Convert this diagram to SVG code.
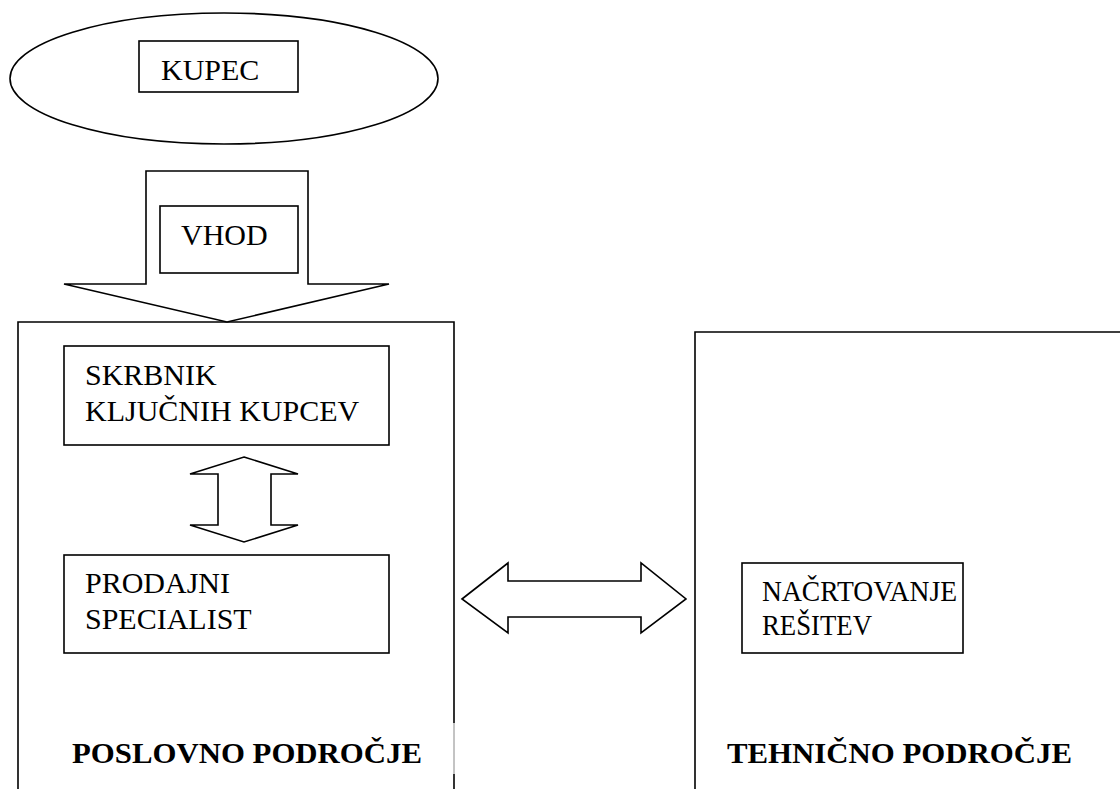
<svg xmlns="http://www.w3.org/2000/svg" width="1120" height="789" viewBox="0 0 1120 789">
<style>
.s{fill:#fff;stroke:#000;stroke-width:1.6}
.o{fill:none;stroke:#000;stroke-width:1.6}
.t{font-family:'Liberation Serif','Times New Roman',Tinos,'DejaVu Serif',serif;font-size:30px;fill:#000}
.b{font-family:'Liberation Serif','Times New Roman',Tinos,'DejaVu Serif',serif;font-size:30px;font-weight:bold;fill:#000}
</style>
<rect width="1120" height="789" fill="#fff"/>
<g id="poslovno">
<path class="o" d="M18,800 V322 H454 V723"/>
<path d="M454,723 V774" stroke="#888" stroke-width="1"/>
<path class="o" d="M454,774 V800"/>
<text class="b" x="72" y="763" textLength="350" lengthAdjust="spacingAndGlyphs">POSLOVNO PODROČJE</text>
</g>
<g id="tehnicno">
<path class="o" d="M695,800 V332 H1125"/>
<text class="b" x="727" y="763" font-size="32" textLength="345" lengthAdjust="spacingAndGlyphs">TEHNIČNO PODROČJE</text>
</g>
<g id="kupec">
<ellipse class="s" cx="224" cy="78.5" rx="214" ry="65.5"/>
<rect class="s" x="139" y="41" width="159" height="51"/>
<text class="t" x="161" y="80">KUPEC</text>
</g>
<g id="connectors">
<polygon class="s" points="146,171 308,171 308,284 389,284 227,322 64,284 146,284"/>
<polygon class="s" points="244,457 298,474 271,474 271,525 298,525 244,542 190,525 218,525 218,474 190,474"/>
<polygon class="s" points="462,599 508,563 508,581 641,581 641,563 686,599 641,633 641,617 508,617 508,633"/>
</g>
<g id="vhod">
<rect class="s" x="160" y="206" width="138" height="67"/>
<text class="t" x="181" y="245">VHOD</text>
</g>
<g id="skrbnik">
<rect class="s" x="64" y="346" width="325" height="99"/>
<text class="t" x="85" y="385">SKRBNIK</text>
<text class="t" x="85" y="421">KLJUČNIH KUPCEV</text>
</g>
<g id="prodajni">
<rect class="s" x="64" y="555" width="325" height="98"/>
<text class="t" x="85" y="593">PRODAJNI</text>
<text class="t" x="85" y="629">SPECIALIST</text>
</g>
<g id="nacrtovanje">
<rect class="s" x="742" y="563" width="221" height="90"/>
<text class="t" x="762" y="601" textLength="195" lengthAdjust="spacingAndGlyphs">NAČRTOVANJE</text>
<text class="t" x="762" y="635" textLength="110" lengthAdjust="spacingAndGlyphs">REŠITEV</text>
</g>
</svg>
